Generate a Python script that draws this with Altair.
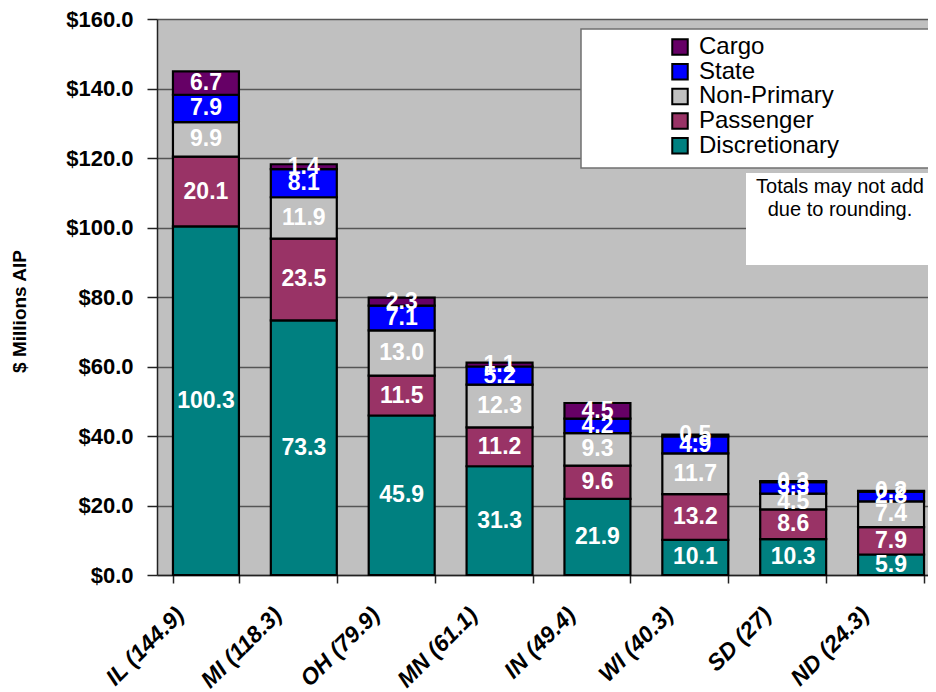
import altair as alt
import pandas as pd

states = ["IL (144.9)", "MI (118.3)", "OH (79.9)", "MN (61.1)",
          "IN (49.4)", "WI (40.3)", "SD (27)", "ND (24.3)"]
discretionary = [100.3, 73.3, 45.9, 31.3, 21.9, 10.1, 10.3, 5.9]
passenger = [20.1, 23.5, 11.5, 11.2, 9.6, 13.2, 8.6, 7.9]
non_primary = [9.9, 11.9, 13.0, 12.3, 9.3, 11.7, 4.5, 7.4]
state_apport = [7.9, 8.1, 7.1, 5.2, 4.2, 4.9, 3.3, 2.8]
cargo = [6.7, 1.4, 2.3, 1.1, 4.5, 0.5, 0.3, 0.2]

series_names = ["Discretionary", "Passenger", "Non-Primary", "State", "Cargo"]
series_values = [discretionary, passenger, non_primary, state_apport, cargo]
legend_order = ["Cargo", "State", "Non-Primary", "Passenger", "Discretionary"]
legend_colors = ["#660066", "#0000FF", "#C0C0C0", "#993366", "#008080"]
note_lines = ["Totals may not add", "due to rounding."]

rows = []
for k, (name, vals) in enumerate(zip(series_names, series_values)):
    for s, v in zip(states, vals):
        rows.append({"state": s, "series": name, "value": v, "ord": k})
df = pd.DataFrame(rows)

W, H = 771, 556
FONT = "Liberation Sans"

base = alt.Chart(df).transform_stack(
    stack="value", groupby=["state"], sort=[{"field": "ord", "order": "ascending"}],
    as_=["v0", "v1"]
).transform_calculate(mid="(datum.v0 + datum.v1) / 2")

xscale = alt.Scale(range=[0, 783], paddingInner=0.326, paddingOuter=0.163)

xenc = alt.X("state:N", sort=states, title=None, scale=xscale,
             axis=alt.Axis(labelAngle=-45, labelAlign="right", labelBaseline="middle",
                           labelFont=FONT, labelFontSize=23,
                           labelFontWeight="bold", labelFontStyle="italic",
                           labelColor="black", labelPadding=28, labelOffset=-26,
                           tickBand="extent", tickSize=8, tickColor="#222222",
                           domainColor="#222222", domainWidth=1.5, tickWidth=1.5))

yenc = alt.Y("v0:Q", title="$ Millions AIP",
             scale=alt.Scale(domain=[0, 160], nice=False),
             axis=alt.Axis(values=[0, 20, 40, 60, 80, 100, 120, 140, 160], format="$.1f",
                           labelFont=FONT, labelFontSize=22,
                           labelFontWeight="bold", labelColor="black", labelPadding=14,
                           tickSize=10, tickColor="#222222", tickWidth=1.5,
                           domainColor="#222222", domainWidth=1.5,
                           grid=True, gridColor="#555555", gridWidth=1.5,
                           titleFont=FONT, titleFontSize=19,
                           titleFontWeight="bold", titleColor="black",
                           titleX=-128, titleY=292))

bars = base.mark_bar(stroke="black", strokeWidth=2.2).encode(
    x=xenc,
    y=yenc,
    y2="v1:Q",
    color=alt.Color("series:N",
                    scale=alt.Scale(domain=legend_order, range=legend_colors),
                    legend=alt.Legend(title=None, orient="none", legendX=511, legendY=16,
                                      symbolType="square", symbolSize=240,
                                      symbolStrokeColor="black", symbolStrokeWidth=2,
                                      labelFont=FONT, labelFontSize=24,
                                      labelColor="black", labelOffset=7,
                                      rowPadding=0.7, padding=0)),
)

labels = base.mark_text(color="white", font=FONT, fontSize=23,
                        fontWeight="bold", baseline="middle").encode(
    x=alt.X("state:N", sort=states, scale=xscale),
    y=alt.Y("mid:Q"),
    text=alt.Text("value:Q", format=".1f"),
)

one = pd.DataFrame({"a": [0]})
legend_box = alt.Chart(one).mark_rect(fill="white", stroke="#707070", strokeWidth=1.5).encode(
    x=alt.value(424), x2=alt.value(W + 5), y=alt.value(10), y2=alt.value(149))
note_box = alt.Chart(one).mark_rect(fill="white").encode(
    x=alt.value(589), x2=alt.value(W + 5), y=alt.value(154), y2=alt.value(246))
note_text = alt.Chart(one).mark_text(text=note_lines, font=FONT, fontSize=20,
                                     color="black", align="center", baseline="alphabetic",
                                     lineHeight=23).encode(
    x=alt.value(683), y=alt.value(174))

chart = alt.layer(legend_box, note_box, note_text, bars, labels).properties(
    width=W, height=H,
    autosize=alt.AutoSizeParams(type="none"),
    padding={"left": 149, "top": 11, "right": 0, "bottom": 117},
    background="white"
).configure_view(fill="#C0C0C0", stroke=None)

chart.save("out.html", embed_options={"renderer": "svg", "actions": False})
